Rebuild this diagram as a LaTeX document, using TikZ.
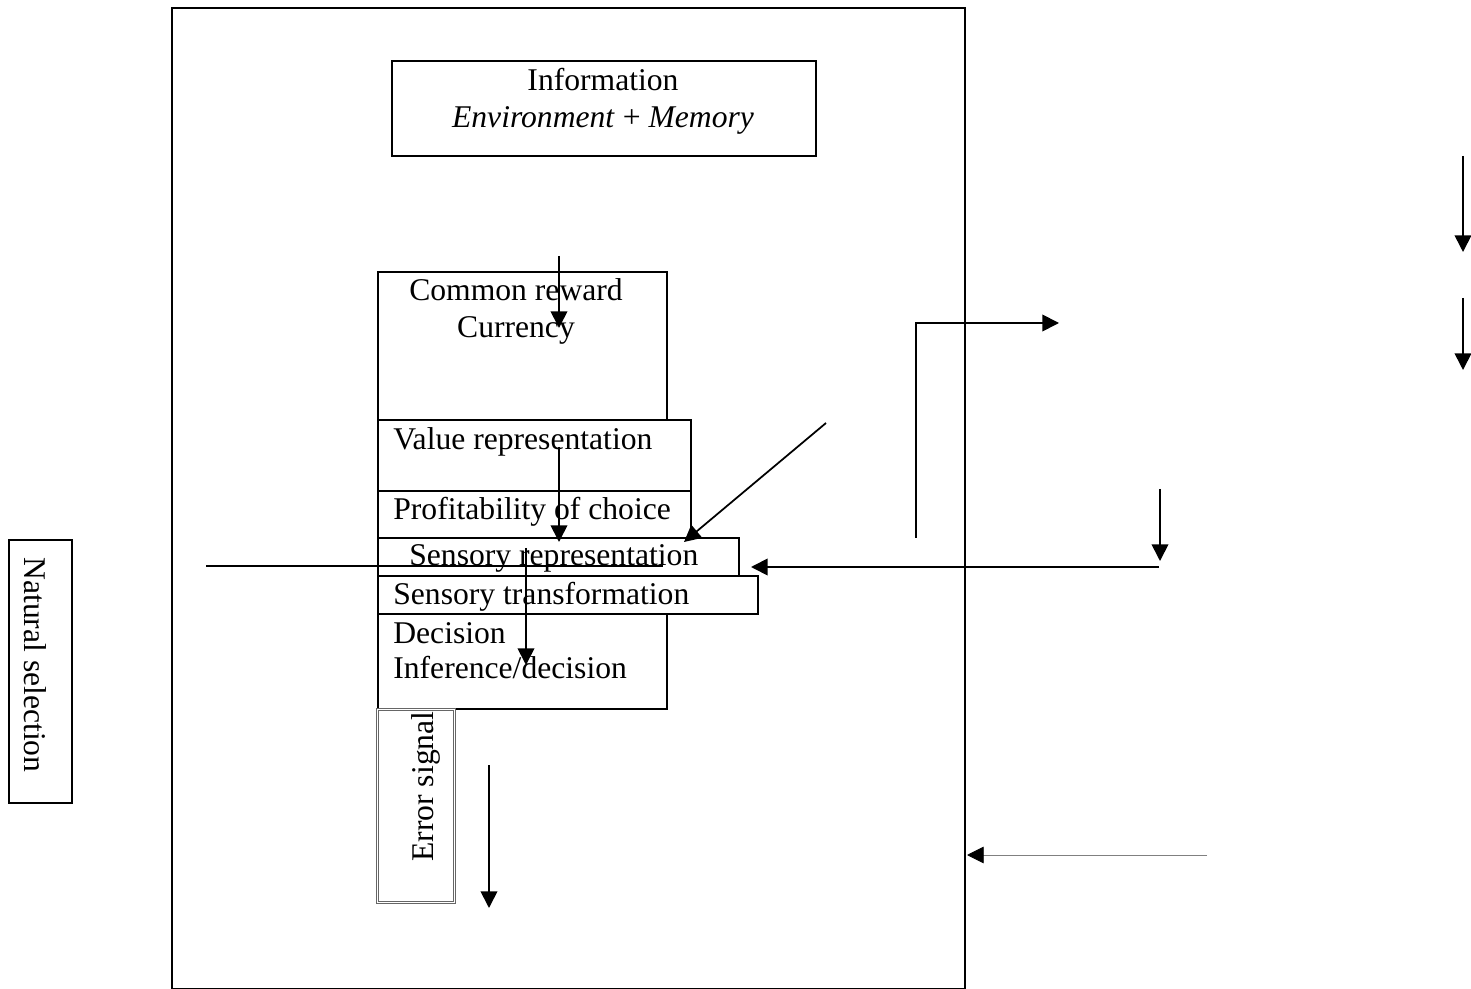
\documentclass[tikz,border=0pt]{standalone}
\usepackage{fontspec}
\setmainfont{Liberation Serif}
\usetikzlibrary{arrows.meta,positioning}
\newcommand{\px}{0.02cm}
\tikzset{
  box/.style={draw,line width=1pt,inner sep=0pt,anchor=north west},
  lbl/.style={inner sep=0pt,font=\fontsize{18}{21}\selectfont},
  link/.style={line width=1pt,-{Triangle[length=9.5pt,width=9.5pt]}},
  bare/.style={line width=1pt},
}

\begin{document}
\begin{tikzpicture}[x=\px,y=-\px]
  \useasboundingbox (0,0) rectangle (1471,989);
  % ---- boxes ----
  \node[box,minimum width=793*\px,minimum height=981*\px] (frame) at (171,7) {};
  \node[box,minimum width=424*\px,minimum height=95*\px] (info) at (391,60) {};
  \node[box,minimum width=289*\px,minimum height=148*\px] (reward) at (377,271) {};
  \node[box,minimum width=313*\px,minimum height=71*\px] (value) at (377,419) {};
  \node[box,minimum width=313*\px,minimum height=47*\px] (profit) at (377,490) {};
  \node[box,minimum width=361*\px,minimum height=38*\px] (sensrep) at (377,537) {};
  \node[box,minimum width=380*\px,minimum height=38*\px] (senstrans) at (377,575) {};
  \node[box,minimum width=289*\px,minimum height=95*\px] (decision) at (377,613) {};
  \node[box,draw=gray!80!black,line width=0.5pt,double,double distance=0.8pt,
        minimum width=77*\px,minimum height=193*\px] (error) at (377,709) {};
  \node[box,minimum width=63*\px,minimum height=263*\px] (natsel) at (8,539) {};
  % ---- labels ----
  \node[lbl,anchor=base] (infoA) at (603,91) {Information};
  \node[lbl,anchor=base] (infoB) at (603,128) {\textit{Environment} + \textit{Memory}};
  \node[lbl,anchor=base] (rewardA) at (516,301) {Common reward};
  \node[lbl,anchor=base] (rewardB) at (516,338) {Currency};
  \node[lbl,anchor=base west] (valueT) at (393,450) {Value representation};
  \node[lbl,anchor=base west] (profitT) at (393,520) {Profitability of choice};
  \node[lbl,anchor=base west] (sensrepT) at (409,566) {Sensory representation};
  \node[lbl,anchor=base west] (senstransT) at (393,604) {Sensory transformation};
  \node[lbl,anchor=base west] (decisionA) at (393,643) {Decision};
  \node[lbl,anchor=base west] (decisionB) at (393,679) {Inference/decision};
  \node[lbl,rotate=90,anchor=base west] (errorT) at (433,862) {Error signal};
  \node[lbl,rotate=-90,anchor=base west] (natselT) at (25,557) {Natural selection};
  % ---- free ends ----
  \coordinate (inS) at (559,256);   \coordinate (inE) at (559,328);
  \coordinate (valS) at (559,447);  \coordinate (valE) at (559,542);
  \coordinate (senS) at (526,548);  \coordinate (senE) at (526,665);
  \coordinate (crossS) at (206,566); \coordinate (crossE) at (663,566);
  \coordinate (diagS) at (826,423); \coordinate (diagE) at (684,542);
  \coordinate (backS) at (1159,567); \coordinate (backE) at (751,567);
  \coordinate (dropS) at (1160,489); \coordinate (dropE) at (1160,561);
  \coordinate (elbS) at (916,538);  \coordinate (elbC) at (916,323);
  \coordinate (elbE) at (1059,323);
  \coordinate (topS) at (1463,156); \coordinate (topE) at (1463,252);
  \coordinate (midS) at (1463,298); \coordinate (midE) at (1463,370);
  \coordinate (fbS) at (1207,855);  \coordinate (fbE) at (967,855);
  \coordinate (errS) at (489,765);  \coordinate (errE) at (489,908);
  % ---- connectors ----
  \draw[link] (inS) -- (inE);
  \draw[link] (valS) -- (valE);
  \draw[link] (senS) -- (senE);
  \draw[bare] (crossS) -- (crossE);
  \draw[link] (diagS) -- (diagE);
  \draw[link] (backS) -- (backE);
  \draw[link] (dropS) -- (dropE);
  \draw[link] (elbS) -- (elbC) -- (elbE);
  \draw[link] (topS) -- (topE);
  \draw[link] (midS) -- (midE);
  \draw[gray,line width=0.5pt,-{Triangle[length=9.5pt,width=9.5pt,color=black]}] (fbS) -- (fbE);
  \draw[link] (errS) -- (errE);
\end{tikzpicture}
\end{document}
